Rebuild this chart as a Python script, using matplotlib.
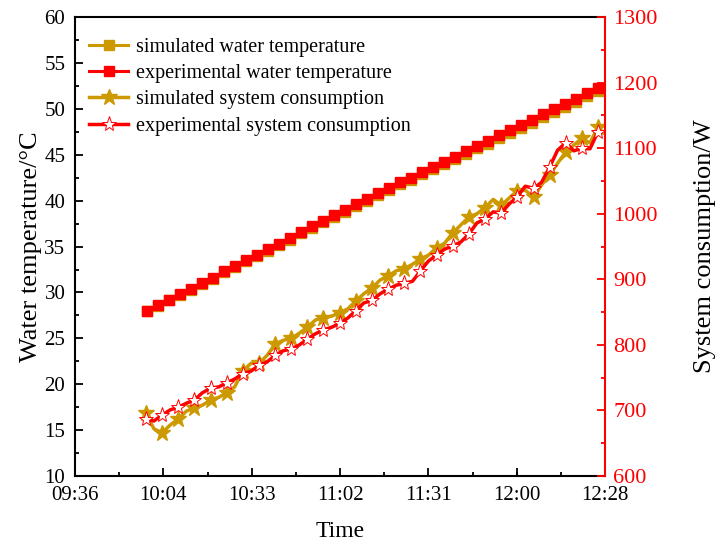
import matplotlib
matplotlib.use("Agg")
import matplotlib.pyplot as plt
from matplotlib.ticker import AutoMinorLocator, MultipleLocator

plt.rcParams['font.family'] = ['Liberation Serif', 'DejaVu Serif']

# time in minutes after 09:36
temp_time = [23.4, 26.9, 30.5, 34.1, 37.6, 41.2, 44.8, 48.4, 51.9, 55.5,
             59.1, 62.6, 66.2, 69.8, 73.4, 76.9, 80.5, 84.1, 87.6, 91.2,
             94.8, 98.3, 101.9, 105.5, 109.1, 112.6, 116.2, 119.8, 123.3, 126.9,
             130.5, 134.1, 137.6, 141.2, 144.8, 148.3, 151.9, 155.5, 159.1, 162.6,
             166.2, 169.8]
exp_temp = [28.0, 28.6, 29.2, 29.8, 30.4, 31.0, 31.6, 32.3, 32.9, 33.5,
            34.1, 34.7, 35.3, 35.9, 36.6, 37.2, 37.8, 38.4, 39.0, 39.6,
            40.2, 40.8, 41.4, 42.0, 42.5, 43.1, 43.7, 44.2, 44.8, 45.4,
            46.0, 46.5, 47.1, 47.7, 48.2, 48.8, 49.4, 50.0, 50.5, 51.1,
            51.7, 52.3]
sim_temp = [27.95, 28.54, 29.13, 29.73, 30.32, 30.91, 31.50, 32.20, 32.79, 33.38,
            33.97, 34.57, 35.16, 35.75, 36.44, 37.04, 37.63, 38.22, 38.81, 39.41,
            40.00, 40.59, 41.18, 41.78, 42.27, 42.86, 43.45, 43.95, 44.54, 45.13,
            45.72, 46.22, 46.81, 47.40, 47.89, 48.49, 49.08, 49.67, 50.16, 50.76,
            51.35, 51.94]

power_time = [23.0, 25.6, 28.2, 30.9, 33.5, 36.1, 38.7, 41.3, 44.0, 46.6,
              49.2, 51.8, 54.4, 57.1, 59.7, 62.3, 64.9, 67.5, 70.2, 72.8,
              75.4, 78.0, 80.6, 83.3, 85.9, 88.5, 91.1, 93.7, 96.4, 99.0,
              101.6, 104.2, 106.8, 109.5, 112.1, 114.7, 117.3, 119.9, 122.6, 125.2,
              127.8, 130.4, 133.0, 135.7, 138.3, 140.9, 143.5, 146.1, 148.8, 151.4,
              154.0, 156.6, 159.2, 161.9, 164.5, 167.1, 169.7]
sim_power = [696, 672, 666, 678, 687, 699, 704, 708, 716, 720,
             727, 736, 760, 772, 772, 784, 801, 807, 810, 818,
             827, 838, 841, 844, 849, 855, 867, 878, 887, 899,
             905, 913, 916, 923, 931, 937, 948, 955, 971, 983,
             995, 1000, 1009, 1022, 1013, 1024, 1035, 1036, 1025, 1044,
             1059, 1077, 1094, 1105, 1115, 1108, 1132]
exp_power = [687, 684, 693, 701, 705, 711, 716, 727, 734, 736,
             742, 748, 756, 760, 769, 774, 784, 791, 794, 800,
             809, 817, 823, 827, 833, 841, 852, 864, 868, 878,
             885, 891, 894, 897, 913, 928, 937, 946, 951, 957,
             969, 986, 992, 1003, 1001, 1015, 1026, 1042, 1039, 1048,
             1071, 1097, 1108, 1096, 1100, 1099, 1125]

time_ticks = [0, 28.667, 57.333, 86, 114.667, 143.333, 172]
time_labels = ['09:36', '10:04', '10:33', '11:02', '11:31', '12:00', '12:28']

gold = '#CC9900'
red = '#FF0000'

fig = plt.figure(figsize=(7.22, 5.51), dpi=100)
ax = fig.add_axes([0.104, 0.136, 0.734, 0.833])

ax.plot(temp_time, sim_temp, color=gold, lw=2.2, marker='s', ms=7.5,
        label='simulated water temperature')
ax.plot(temp_time, exp_temp, color=red, lw=2.2, marker='s', ms=7.5,
        label='experimental water temperature')
ax.set_xlim(0, 172)
ax.set_ylim(10, 60)
ax.set_xticks(time_ticks)
ax.set_xticklabels(time_labels)
ax.xaxis.set_minor_locator(AutoMinorLocator(2))
ax.yaxis.set_major_locator(MultipleLocator(5))
ax.yaxis.set_minor_locator(AutoMinorLocator(2))
ax.set_xlabel('Time', fontsize=17, labelpad=12)
ax.set_ylabel('Water temperature/°C', fontsize=19, labelpad=2)
ax.tick_params(which='both', direction='in', labelsize=15, width=1.3, pad=7)
ax.tick_params(which='major', length=6)
ax.tick_params(which='minor', length=3)
for s in ['left', 'bottom', 'top']:
    ax.spines[s].set_linewidth(1.5)
ax.spines['right'].set_visible(False)

ax2 = ax.twinx()
ax2.plot(power_time, sim_power, color=gold, lw=2.5, marker='*', ms=12,
         markevery=2, label='simulated system consumption')
ax2.plot(power_time, exp_power, color=red, lw=2.5, marker='*', ms=11,
         mfc='white', mec=red, mew=0.7, markevery=2,
         label='experimental system consumption')
ax2.set_ylim(600, 1300)
ax2.yaxis.set_major_locator(MultipleLocator(100))
ax2.yaxis.set_minor_locator(AutoMinorLocator(2))
ax2.set_ylabel('System consumption/W', fontsize=19, labelpad=26)
ax2.tick_params(which='both', direction='in', labelsize=16, width=1.3,
                colors=red, labelcolor=red, pad=6)
ax2.tick_params(which='major', length=6)
ax2.tick_params(which='minor', length=3)
ax2.spines['right'].set_color(red)
ax2.spines['right'].set_linewidth(1.5)
for s in ['left', 'bottom', 'top']:
    ax2.spines[s].set_visible(False)

h1, l1 = ax.get_legend_handles_labels()
h2, l2 = ax2.get_legend_handles_labels()
ax2.legend(h1 + h2, l1 + l2, loc='upper left', bbox_to_anchor=(0.0, 0.985),
           frameon=False, fontsize=14.5, handlelength=1.95, handletextpad=0.35,
           labelspacing=0.35, borderaxespad=0.3)

fig.savefig('out.png', dpi=100)
